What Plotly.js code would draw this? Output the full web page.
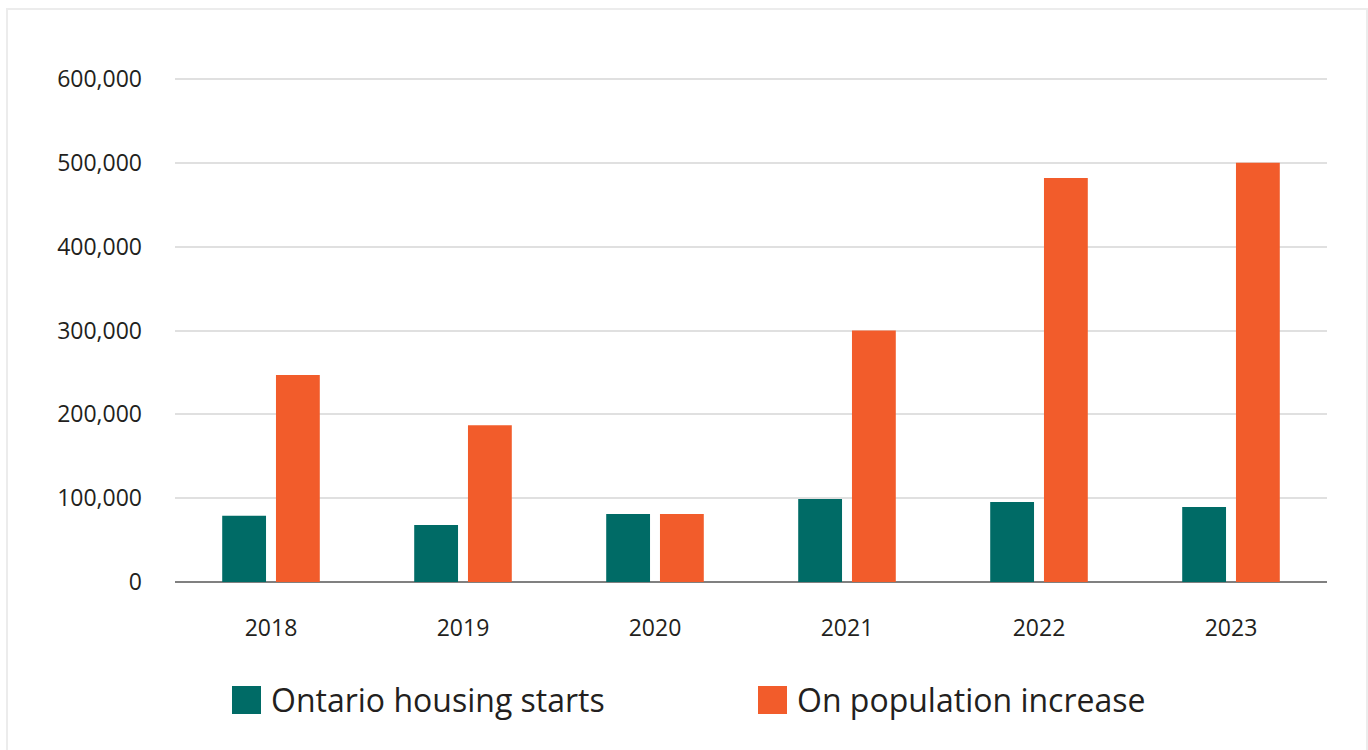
<!DOCTYPE html>
<html>
<head>
<meta charset="utf-8">
<script src="https://cdn.plot.ly/plotly-3.0.1.min.js"></script>
<style>
  html, body { margin: 0; padding: 0; background: #fff; }
  #chart { width: 1368px; height: 750px; }
  #frame { position: absolute; left: 6px; top: 8px; width: 1358px; height: 760px; border: 2px solid #ececec; pointer-events: none; }
</style>
</head>
<body>
<div id="chart"></div>
<div id="frame"></div>
<script>
const years = ['2018', '2019', '2020', '2021', '2022', '2023'];
const housingStarts = [79000, 68000, 81000, 99000, 95500, 89500];
const populationIncrease = [247000, 187000, 81000, 300000, 482000, 500000];
const seriesNames = ['Ontario housing starts', 'On population increase'];
const seriesColors = ['#006b66', '#f25c2b'];
const yTicks = [0, 100000, 200000, 300000, 400000, 500000, 600000];

const fontFamily = 'Open Sans, Noto Sans, sans-serif';
const textColor = '#231f20';

const traces = [
  { type: 'bar', x: years, y: housingStarts, name: seriesNames[0], marker: { color: seriesColors[0] }, showlegend: false, hoverinfo: 'x+y' },
  { type: 'bar', x: years, y: populationIncrease, name: seriesNames[1], marker: { color: seriesColors[1] }, showlegend: false, hoverinfo: 'x+y' }
];

// plot area geometry (px) for legend placement
const L = 175, R = 41, T = 74, B = 168;
const W = 1368 - L - R, H = 750 - T - B;
const px = v => (v - L) / W;
const py = v => (750 - B - v) / H;

const legendItems = [
  { sx: 232, tx: 269 },
  { sx: 758, tx: 795 }
];
const shapes = [];
const annotations = [];
legendItems.forEach((it, i) => {
  shapes.push({ type: 'rect', xref: 'paper', yref: 'paper', x0: px(it.sx), x1: px(it.sx + 29), y0: py(714), y1: py(686), fillcolor: seriesColors[i], line: { width: 0 } });
  annotations.push({ xref: 'paper', yref: 'paper', x: px(it.tx), y: py(699), xanchor: 'left', yanchor: 'middle', text: seriesNames[i], showarrow: false, font: { family: fontFamily, size: 32, color: textColor } });
});

const layout = {
  width: 1368, height: 750,
  margin: { l: L, r: R, t: T, b: B },
  paper_bgcolor: '#ffffff', plot_bgcolor: '#ffffff',
  barmode: 'group', bargap: 0.44, bargroupgap: 0.185,
  font: { family: fontFamily, color: textColor },
  xaxis: {
    type: 'category', showgrid: false, showline: false, ticks: '', zeroline: false,
    tickfont: { family: fontFamily, size: 23, color: textColor }, ticklabelstandoff: 30
  },
  yaxis: {
    range: [0, 606000], tickvals: yTicks, tickformat: ',d',
    showgrid: true, gridcolor: '#e0e0e0', gridwidth: 2,
    zeroline: true, zerolinecolor: '#808080', zerolinewidth: 2,
    showline: false, ticks: '',
    tickfont: { family: fontFamily, size: 23, color: textColor }, ticklabelstandoff: 32
  },
  shapes: shapes,
  annotations: annotations,
  showlegend: false
};

Plotly.newPlot('chart', traces, layout, { displayModeBar: false, staticPlot: true });
</script>
</body>
</html>
